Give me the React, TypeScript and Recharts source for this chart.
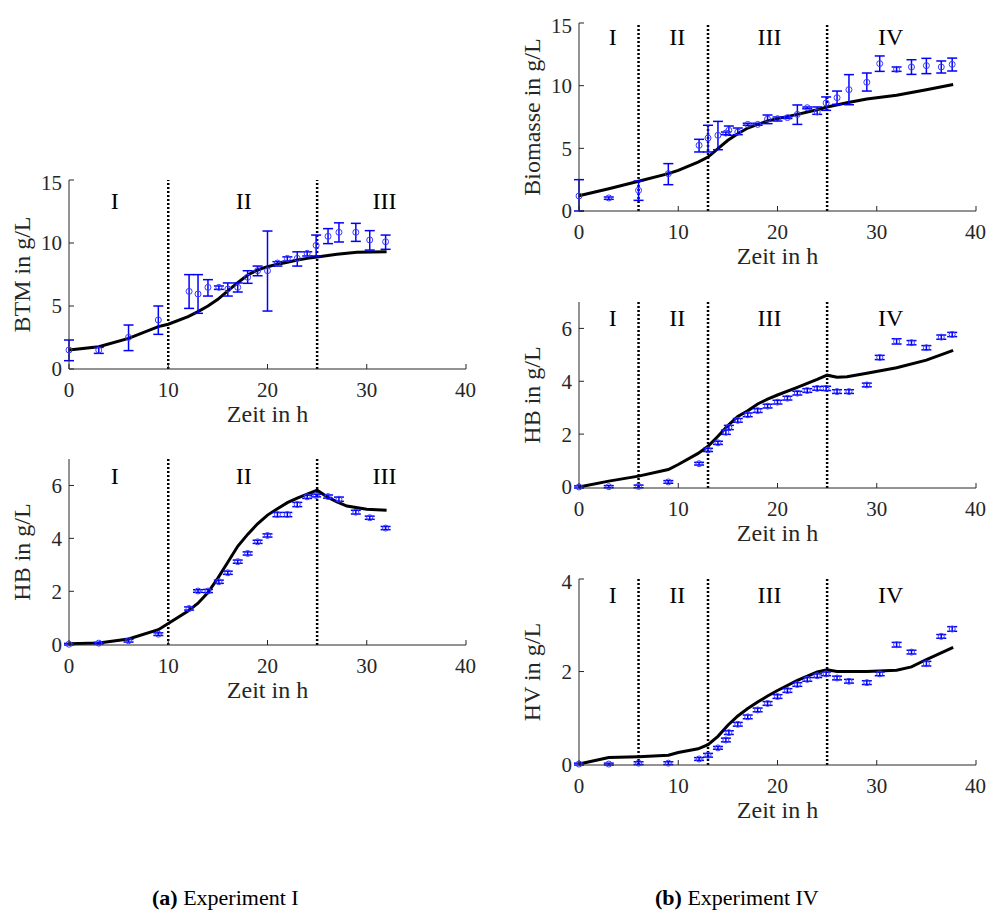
import { ComposedChart, ErrorBar, Line, ReferenceDot, ReferenceLine, Scatter, XAxis, YAxis } from "recharts";

const FONT = "'Liberation Serif', 'Times New Roman', serif";
const AXIS = "#262626";
const BLUE = "#0000ff";

const xTicks = [0, 10, 20, 30, 40];

// Experiment I – measurements
const exp1Time = [0, 3, 6, 9, 12.1, 13, 14, 15.1, 16, 17, 18, 19, 20, 21, 22, 23, 24, 24.9, 26.1, 27.2, 28.9, 30.3, 31.9];
const exp1BtmMean = [1.51, 1.5, 2.51, 3.89, 6.16, 5.95, 6.48, 6.48, 6.35, 6.48, 7.28, 7.8, 7.8, 8.41, 8.78, 8.78, 9.18, 9.81, 10.53, 10.85, 10.85, 10.24, 10.1];
const exp1BtmLow = [0.66, 1.24, 1.46, 2.75, 4.81, 4.42, 5.79, 6.32, 5.79, 6.11, 6.8, 7.4, 4.6, 8.17, 8.57, 8.17, 8.97, 8.97, 9.95, 10.08, 10.13, 9.44, 9.5];
const exp1BtmHigh = [2.3, 1.72, 3.49, 5.0, 7.49, 7.49, 7.09, 6.59, 6.83, 6.83, 7.8, 8.17, 10.95, 8.52, 8.9, 9.3, 9.3, 10.63, 11.14, 11.6, 11.56, 10.98, 10.63];
const exp1HbMean = [0, 0.04, 0.13, 0.38, 1.35, 2.01, 2.01, 2.36, 2.7, 3.12, 3.43, 3.87, 4.11, 4.9, 4.9, 5.28, 5.57, 5.62, 5.58, 5.48, 4.99, 4.78, 4.39];
const exp1HbErr = [0.03, 0.03, 0.05, 0.05, 0.06, 0.05, 0.06, 0.06, 0.06, 0.06, 0.06, 0.06, 0.06, 0.08, 0.08, 0.08, 0.06, 0.05, 0.06, 0.08, 0.07, 0.06, 0.06];

// Experiment I – model
const exp1BtmModelTime = [0, 3, 6, 9, 10, 12, 13, 14, 15, 16, 17, 18, 19, 20, 21, 22, 23, 24, 25, 27, 29, 32];
const exp1BtmModel = [1.5, 1.77, 2.43, 3.36, 3.55, 4.15, 4.55, 5.0, 5.53, 6.2, 6.85, 7.46, 7.86, 8.12, 8.31, 8.47, 8.65, 8.78, 8.89, 9.1, 9.26, 9.31];
const exp1HbModelTime = [0, 3, 6, 9, 10, 12, 13, 14, 15, 16, 17, 18, 19, 20, 21, 22, 23, 24, 25, 26, 27, 28, 30, 32];
const exp1HbModel = [0.02, 0.05, 0.2, 0.55, 0.78, 1.25, 1.55, 1.95, 2.5, 3.1, 3.7, 4.15, 4.55, 4.88, 5.12, 5.35, 5.52, 5.67, 5.82, 5.57, 5.38, 5.22, 5.1, 5.06];

// Experiment IV – measurements
const exp4Time = [0, 3, 6, 9, 12.1, 13, 14, 14.8, 15.1, 16, 17, 18, 19, 20, 21, 22, 23, 24, 24.9, 26, 27.2, 29, 30.3, 32, 33.5, 35, 36.5, 37.6];
const exp4BioMean = [1.2, 1.04, 1.65, 2.98, 5.24, 5.82, 6.04, 6.22, 6.44, 6.3, 6.91, 6.91, 7.34, 7.37, 7.45, 7.71, 8.24, 7.9, 8.62, 9.04, 9.68, 10.27, 11.76, 11.3, 11.49, 11.6, 11.49, 11.7];
const exp4BioLow = [0, 0.93, 0.85, 2.1, 4.71, 4.71, 4.89, 6.09, 6.04, 6.09, 6.84, 6.84, 6.97, 7.18, 7.38, 6.91, 8.16, 7.71, 8.03, 8.51, 8.48, 9.57, 11.14, 11.14, 10.9, 10.96, 11.01, 11.17];
const exp4BioHigh = [2.5, 1.12, 2.39, 3.78, 5.72, 6.84, 7.15, 6.3, 6.78, 6.62, 7.0, 7.0, 7.66, 7.5, 7.52, 8.46, 8.3, 8.3, 9.1, 9.57, 10.88, 11.01, 12.37, 11.49, 12.07, 12.18, 11.97, 12.2];
const exp4HbMean = [0, 0.01, 0.02, 0.19, 0.88, 1.4, 1.67, 2.07, 2.25, 2.52, 2.73, 2.89, 3.06, 3.21, 3.36, 3.55, 3.65, 3.73, 3.73, 3.61, 3.61, 3.86, 4.9, 5.51, 5.46, 5.27, 5.67, 5.77];
const exp4HbErr = [0.04, 0.04, 0.05, 0.05, 0.05, 0.06, 0.06, 0.08, 0.08, 0.07, 0.07, 0.07, 0.07, 0.07, 0.07, 0.07, 0.07, 0.07, 0.08, 0.07, 0.07, 0.07, 0.08, 0.1, 0.08, 0.08, 0.08, 0.08];
const exp4HvMean = [0, 0, 0.02, 0.02, 0.11, 0.19, 0.35, 0.52, 0.68, 0.86, 1.02, 1.17, 1.31, 1.46, 1.59, 1.72, 1.83, 1.91, 1.95, 1.86, 1.79, 1.76, 1.95, 2.58, 2.42, 2.17, 2.76, 2.92];
const exp4HvErr = [0.02, 0.02, 0.03, 0.03, 0.03, 0.04, 0.03, 0.04, 0.04, 0.04, 0.04, 0.04, 0.04, 0.04, 0.04, 0.04, 0.04, 0.04, 0.04, 0.04, 0.04, 0.04, 0.04, 0.05, 0.04, 0.05, 0.04, 0.05];

// Experiment IV – model
const exp4BioModelTime = [0, 3, 6, 9, 10, 12, 13, 14, 15, 16, 17, 18, 19, 20, 22, 24, 25, 27, 29, 32, 35, 37.7];
const exp4BioModel = [1.22, 1.78, 2.37, 2.98, 3.24, 3.9, 4.3, 4.97, 5.64, 6.17, 6.62, 6.91, 7.18, 7.37, 7.71, 8.08, 8.3, 8.64, 8.94, 9.23, 9.68, 10.1];
const exp4HbModelTime = [0, 3, 6, 9, 10, 12, 13, 14, 15, 16, 17, 18, 19, 20, 22, 24, 25, 26, 27, 29, 32, 35, 37.7];
const exp4HbModel = [0, 0.22, 0.41, 0.66, 0.85, 1.27, 1.54, 1.92, 2.32, 2.67, 2.88, 3.14, 3.32, 3.48, 3.77, 4.07, 4.23, 4.15, 4.17, 4.3, 4.51, 4.8, 5.17];
const exp4HvModelTime = [0, 3, 6, 9, 10, 12, 13, 14, 15, 16, 17, 18, 19, 20, 22, 24, 25, 26, 29, 32, 33.5, 35, 37.7];
const exp4HvModel = [0, 0.14, 0.16, 0.19, 0.25, 0.33, 0.42, 0.6, 0.84, 1.04, 1.2, 1.34, 1.47, 1.59, 1.81, 1.99, 2.04, 2.0, 2.0, 2.03, 2.1, 2.26, 2.52];

// phase boundaries and the roman numerals placed between them
const exp1Phases = [10, 25];
const exp1PhaseLabels = [
  { x: 4.6, text: "I" },
  { x: 17.6, text: "II" },
  { x: 31.8, text: "III" },
];
const exp4Phases = [6, 13, 25];
const exp4PhaseLabels = [
  { x: 3.4, text: "I" },
  { x: 9.9, text: "II" },
  { x: 19.2, text: "III" },
  { x: 31.4, text: "IV" },
];

type Pt = { x: number; y: number; err: [number, number] };

const withRange = (t: number[], m: number[], lo: number[], hi: number[]): Pt[] =>
  t.map((x, i) => ({ x, y: m[i], err: [m[i] - lo[i], hi[i] - m[i]] }));
const withErr = (t: number[], m: number[], e: number[]): Pt[] =>
  t.map((x, i) => ({ x, y: m[i], err: [e[i], e[i]] }));
const curve = (t: number[], v: number[]) => t.map((x, i) => ({ x, y: v[i] }));

type Panel = {
  left: number;
  top: number;
  width: number;
  height: number;
  yMax: number;
  yTicks: number[];
  yLabel: string;
  phaseY: number;
  phases: number[];
  phaseLabels: { x: number; text: string }[];
  points: Pt[];
  model: { x: number; y: number }[];
};

const panels: Panel[] = [
  {
    left: 69, top: 180, width: 397, height: 189, yMax: 15, yTicks: [0, 5, 10, 15], yLabel: "BTM in g/L",
    phaseY: 13.4, phases: exp1Phases, phaseLabels: exp1PhaseLabels,
    points: withRange(exp1Time, exp1BtmMean, exp1BtmLow, exp1BtmHigh), model: curve(exp1BtmModelTime, exp1BtmModel),
  },
  {
    left: 69, top: 459, width: 397, height: 186, yMax: 7, yTicks: [0, 2, 4, 6], yLabel: "HB in g/L",
    phaseY: 6.36, phases: exp1Phases, phaseLabels: exp1PhaseLabels,
    points: withErr(exp1Time, exp1HbMean, exp1HbErr), model: curve(exp1HbModelTime, exp1HbModel),
  },
  {
    left: 579, top: 23, width: 397, height: 188, yMax: 15, yTicks: [0, 5, 10, 15], yLabel: "Biomasse in g/L",
    phaseY: 13.9, phases: exp4Phases, phaseLabels: exp4PhaseLabels,
    points: withRange(exp4Time, exp4BioMean, exp4BioLow, exp4BioHigh), model: curve(exp4BioModelTime, exp4BioModel),
  },
  {
    left: 579, top: 302, width: 397, height: 186, yMax: 7, yTicks: [0, 2, 4, 6], yLabel: "HB in g/L",
    phaseY: 6.4, phases: exp4Phases, phaseLabels: exp4PhaseLabels,
    points: withErr(exp4Time, exp4HbMean, exp4HbErr), model: curve(exp4HbModelTime, exp4HbModel),
  },
  {
    left: 579, top: 579, width: 397, height: 186, yMax: 4, yTicks: [0, 2, 4], yLabel: "HV in g/L",
    phaseY: 3.66, phases: exp4Phases, phaseLabels: exp4PhaseLabels,
    points: withErr(exp4Time, exp4HvMean, exp4HvErr), model: curve(exp4HvModelTime, exp4HvModel),
  },
];

const tickStyle = { fontSize: 21, fill: AXIS, fontFamily: FONT };

const marker = (props: any) => (
  <circle cx={props.cx} cy={props.cy} r={3} fill="none" stroke="#3a3aff" strokeWidth={1} />
);

const PAD_L = 80;
const PAD_R = 10;
const PAD_T = 10;
const PAD_B = 40;

function PanelChart({ p }: { p: Panel }) {
  return (
    <div style={{ position: "absolute", left: p.left - PAD_L, top: p.top - PAD_T }}>
      <ComposedChart
        width={p.width + PAD_L + PAD_R}
        height={p.height + PAD_T + PAD_B}
        margin={{ top: PAD_T, right: PAD_R, bottom: 0, left: 0 }}
      >
        <XAxis
          type="number"
          dataKey="x"
          domain={[0, 40]}
          ticks={xTicks}
          height={PAD_B}
          stroke={AXIS}
          tickSize={-5}
          tickMargin={18}
          tick={tickStyle}
        />
        <XAxis
          xAxisId="top"
          orientation="top"
          type="number"
          domain={[0, 40]}
          ticks={xTicks}
          height={0}
          stroke={AXIS}
          tickSize={-5}
          tickFormatter={() => ""}
        />
        <YAxis
          type="number"
          dataKey="y"
          domain={[0, p.yMax]}
          ticks={p.yTicks}
          width={PAD_L}
          stroke={AXIS}
          tickSize={-5}
          tickMargin={12}
          tick={tickStyle}
        />
        <YAxis
          yAxisId="right"
          orientation="right"
          type="number"
          domain={[0, p.yMax]}
          ticks={p.yTicks}
          width={0}
          stroke={AXIS}
          tickSize={-5}
          tickFormatter={() => ""}
        />
        {p.phases.map((x) => (
          <ReferenceLine key={x} x={x} stroke="#000" strokeWidth={2.5} strokeDasharray="2 2" />
        ))}
        {p.phaseLabels.map((l) => (
          <ReferenceDot
            key={l.text}
            x={l.x}
            y={p.phaseY}
            r={0}
            fill="none"
            stroke="none"
            label={{ value: l.text, position: "center", fontSize: 24, fill: "#000", fontFamily: FONT }}
          />
        ))}
        <Line
          data={p.model}
          dataKey="y"
          type="linear"
          stroke="#000"
          strokeWidth={3}
          dot={false}
          isAnimationActive={false}
        />
        <Scatter data={p.points} shape={marker} isAnimationActive={false}>
          <ErrorBar dataKey="err" direction="y" width={5} stroke={BLUE} strokeWidth={1.5} isAnimationActive={false} />
        </Scatter>
      </ComposedChart>
    </div>
  );
}

// axis titles, placed relative to each panel's plot box
function AxisTitles({ p }: { p: Panel }) {
  const cx = p.left + p.width / 2;
  const cy = p.top + p.height / 2;
  return (
    <g fontSize={24} fill={AXIS} textAnchor="middle">
      <text x={cx} y={p.top + p.height + 53}>Zeit in h</text>
      <text x={p.left - 47} y={cy} dominantBaseline="central" transform={`rotate(-90 ${p.left - 47} ${cy})`}>
        {p.yLabel}
      </text>
    </g>
  );
}

export default function App() {
  return (
    <div style={{ position: "absolute", left: 0, top: 0, width: 989, height: 918, background: "#fff", fontFamily: FONT }}>
      {panels.map((p, i) => (
        <PanelChart key={i} p={p} />
      ))}
      <svg style={{ position: "absolute", left: 0, top: 0, pointerEvents: "none" }} width={989} height={918} fontFamily={FONT}>
        {panels.map((p, i) => (
          <AxisTitles key={i} p={p} />
        ))}
        <g fontSize={22} fill="#000">
          <text x={152} y={905}>
            <tspan fontWeight="bold">(a)</tspan> Experiment I
          </text>
          <text x={655} y={905}>
            <tspan fontWeight="bold">(b)</tspan> Experiment IV
          </text>
        </g>
      </svg>
    </div>
  );
}
